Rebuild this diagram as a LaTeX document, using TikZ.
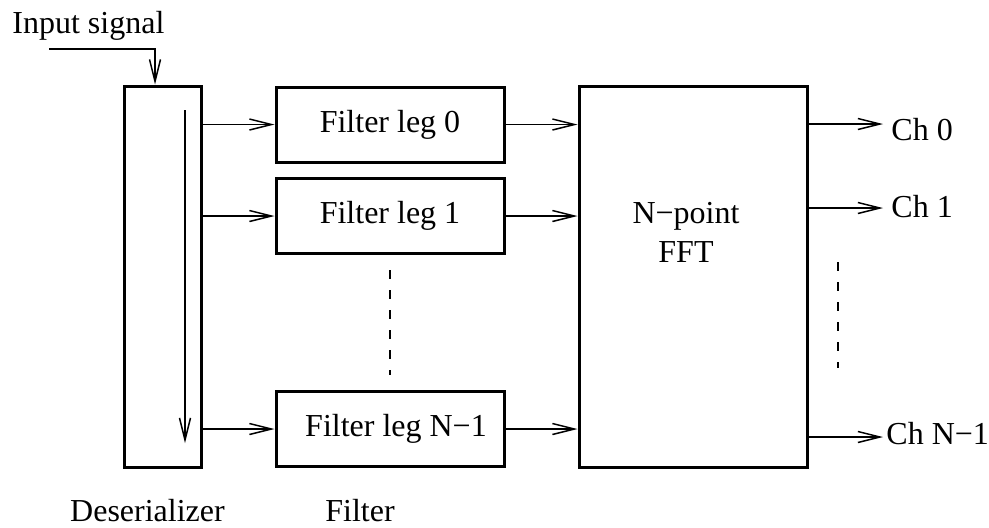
\documentclass[tikz,border=0pt]{standalone}
\usepackage{fontspec}
\setmainfont{Liberation Serif}
\usetikzlibrary{arrows.meta}
\tikzset{
  box/.style={draw, line width=1.5pt, inner sep=0pt, font=\fontsize{16}{19.5}\selectfont},
  arr/.style={line width=0.75pt, -{Straight Barb[length=11pt,width=5.5pt]}},
  lbl/.style={inner sep=0pt, font=\fontsize{16}{19.5}\selectfont},
  dots/.style={line width=1pt, dash pattern=on 4.5pt off 5.5pt}
}
\begin{document}
\begin{tikzpicture}[x=0.5pt,y=-0.5pt]
\useasboundingbox (0,0) rectangle (989,527);
% boxes
\node[box, minimum width=38.5pt, minimum height=190.5pt] (des) at (162.5,276.5) {};
\node[box, minimum width=114pt, minimum height=37.5pt] (leg0) at (390,124.5) {Filter leg 0};
\node[box, minimum width=114pt, minimum height=37.5pt] (leg1) at (390,216) {Filter leg 1};
\node[box, minimum width=114pt, minimum height=37.5pt] (legn) at (390,429) {\hspace{6pt}Filter leg N−1};
\node[box, minimum width=114pt, minimum height=190.5pt] (fft) at (693,276.5) {};
\node[lbl, align=center] (fftl) at (686,232) {N−point\\FFT};
% labels
\node[lbl, anchor=base west] (inp) at (12,33) {Input signal};
\node[lbl, anchor=base] (desl) at (147.5,521) {Deserializer};
\node[lbl, anchor=base] (fill) at (360,521) {Filter};
\node[lbl, anchor=base west] (ch0) at (891,140) {Ch 0};
\node[lbl, anchor=base west] (ch1) at (891,217) {Ch 1};
\node[lbl, anchor=base west] (chn) at (886,444) {Ch N−1};
% input
\coordinate (in0) at (49,49);
\coordinate (inx) at (155,0);
\draw[arr] (in0) -| (inx |- des.north);
% inner arrow
\coordinate (ia) at (185,110);
\coordinate (ib) at (185,443);
\draw[arr] (ia) -- (ib);
% deserializer -> legs
\draw[arr] (des.east |- leg0.west) -- (leg0.west);
\draw[arr] (des.east |- leg1.west) -- (leg1.west);
\draw[arr] (des.east |- legn.west) -- (legn.west);
% legs -> fft
\draw[arr] (leg0.east) -- (leg0.east -| fft.west);
\draw[arr] (leg1.east) -- (leg1.east -| fft.west);
\draw[arr] (legn.east) -- (legn.east -| fft.west);
% outputs
\coordinate (o0) at (883,124);
\coordinate (o1) at (883,208);
\coordinate (on) at (883,437);
\draw[arr] (fft.east |- o0) -- (o0);
\draw[arr] (fft.east |- o1) -- (o1);
\draw[arr] (fft.east |- on) -- (on);
% dashed
\coordinate (d1a) at (390,270);
\coordinate (d1b) at (390,375);
\coordinate (d2a) at (838,262);
\coordinate (d2b) at (838,368);
\draw[dots] (d1a) -- (d1b);
\draw[dots] (d2a) -- (d2b);
\end{tikzpicture}
\end{document}
